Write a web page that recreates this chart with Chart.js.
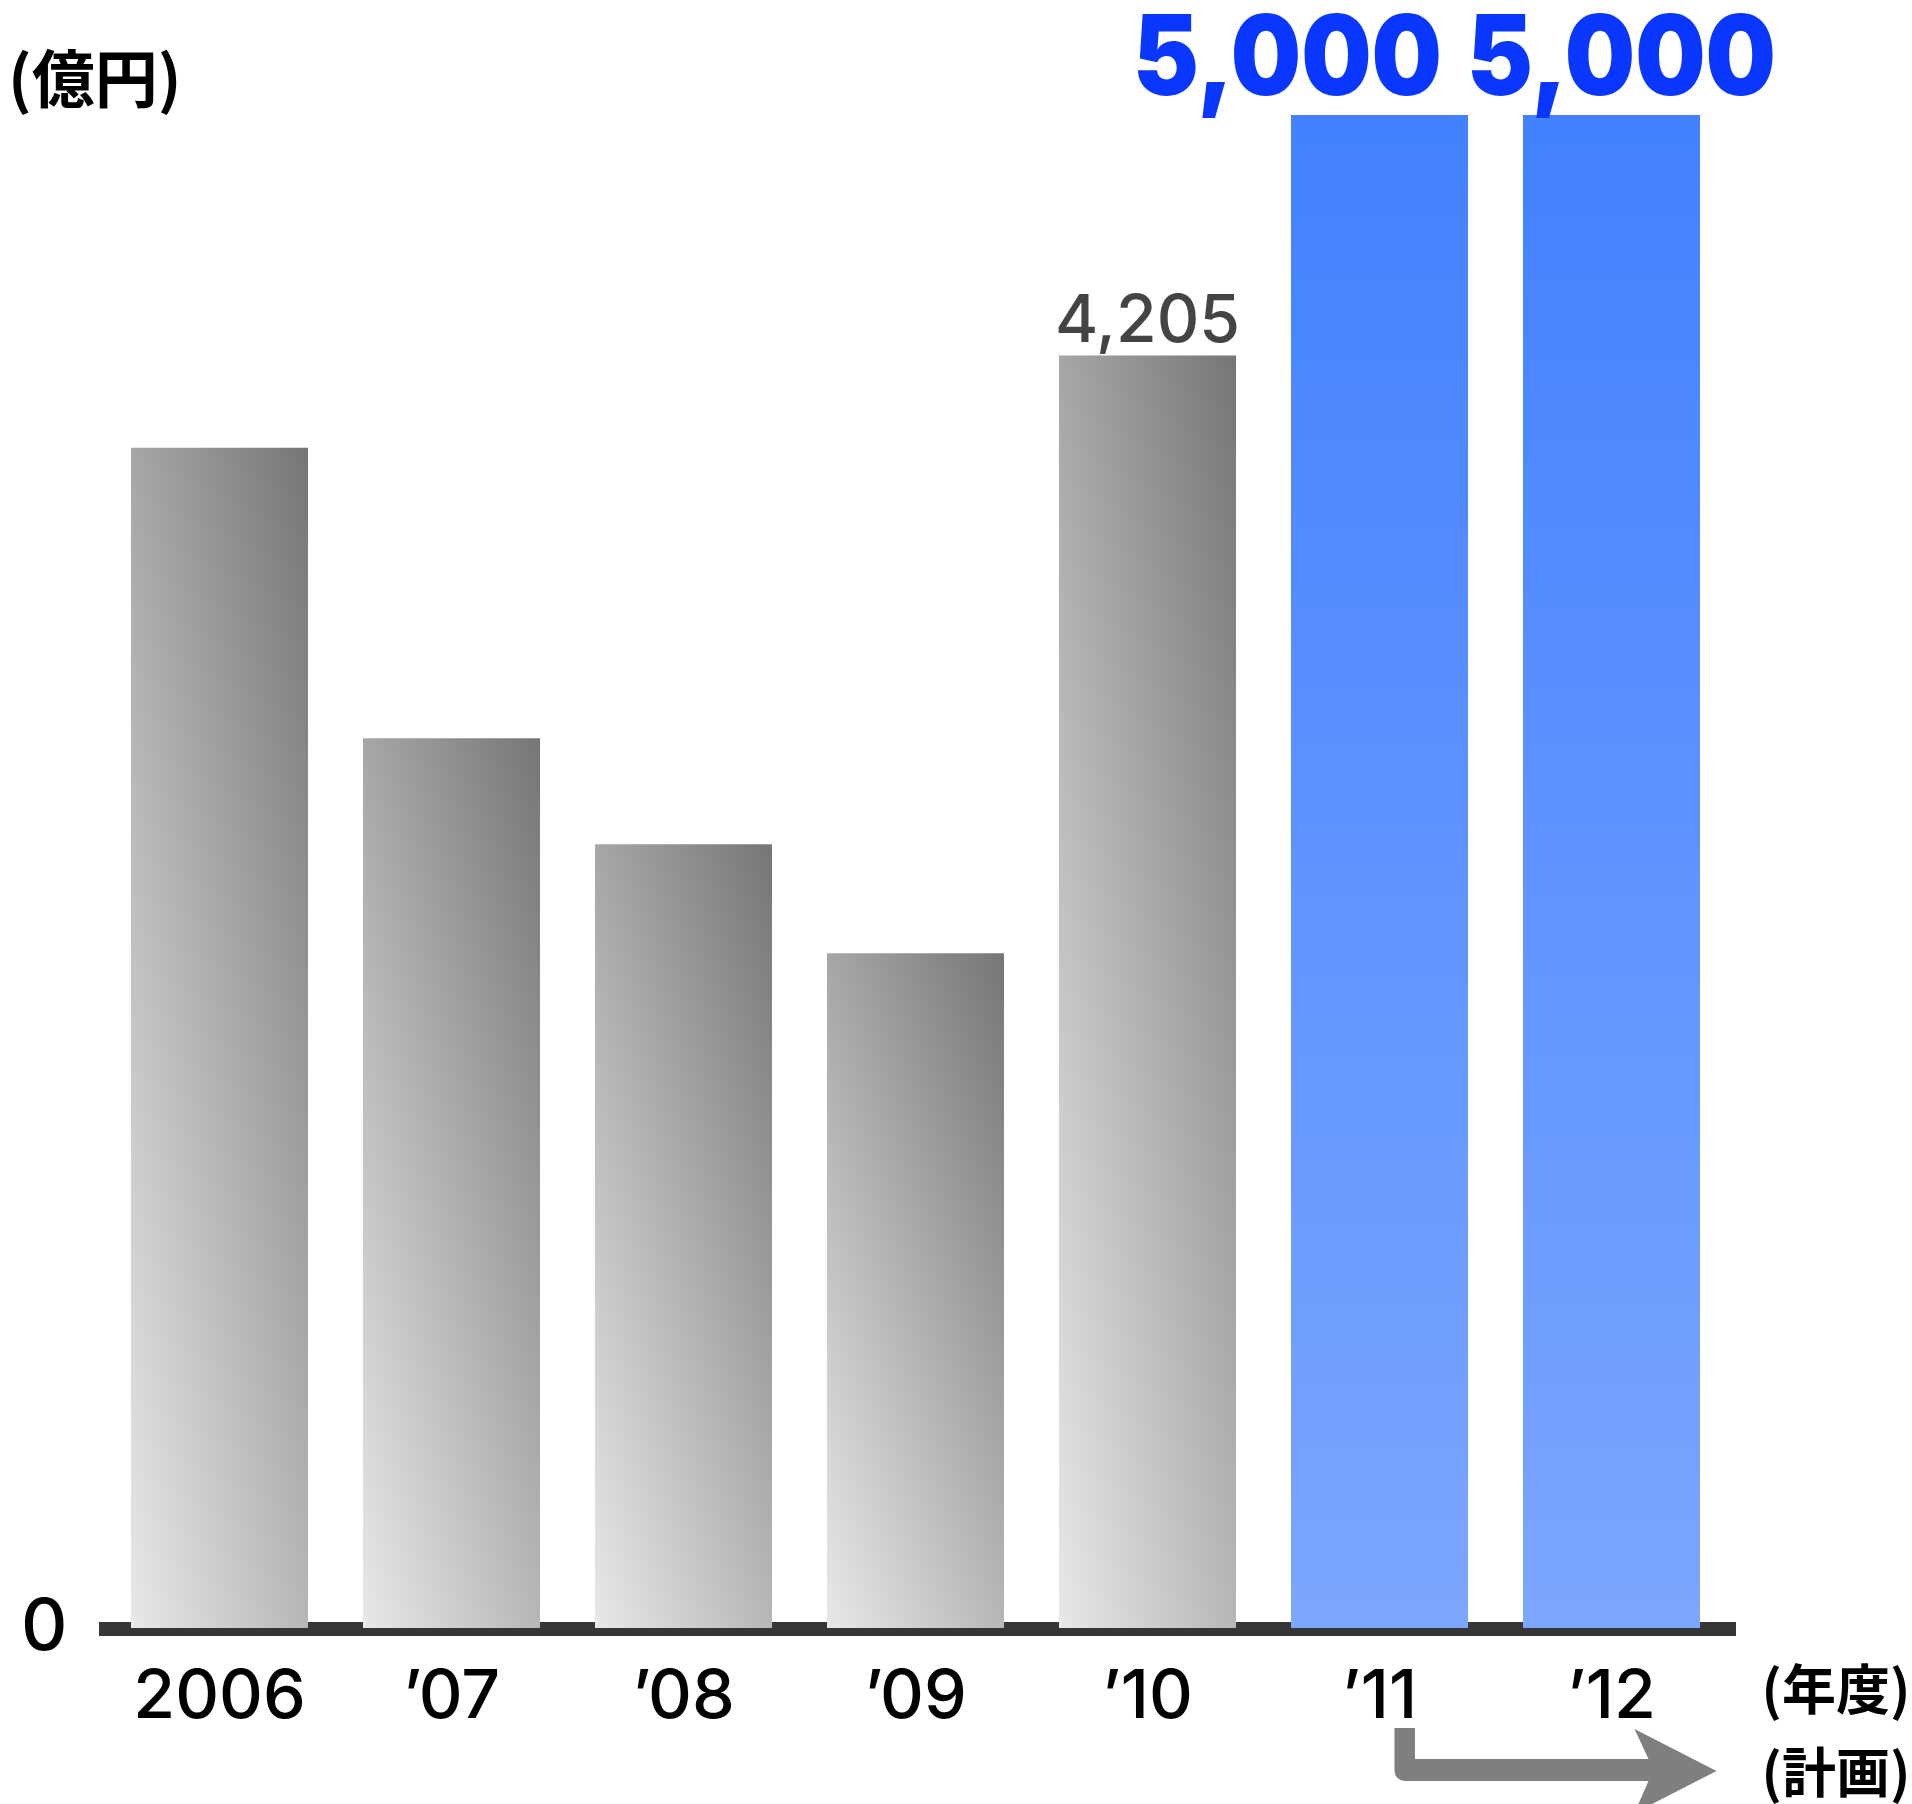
<!DOCTYPE html>
<html lang="ja">
<head>
<meta charset="utf-8">
<title>投資額の推移</title>
<script src="https://cdn.jsdelivr.net/npm/chart.js@4/dist/chart.umd.min.js"></script>
<style>
    html, body { margin: 0; padding: 0; background: #fff; }
    canvas { display: block; }
</style>
</head>
<body>
<canvas id="chart" width="1912" height="1804"></canvas>
<script>
// Data
const years = ['2006', '\u201907', '\u201908', '\u201909', '\u201910', '\u201911', '\u201912'];
const amounts = [3900, 2940, 2590, 2230, 4205, 5000, 5000];
const isPlan = [false, false, false, false, false, true, true];
const showValue = [false, false, false, false, true, true, true];

// Style
const BAR_PCT = 0.763;
const LABEL_NUDGE = { 5: -92, 6: 10 };
const PLAN_LABEL_WIDTH = 309;
const NUM_FONT = 'Inter, "Liberation Sans", Arial, sans-serif';
const JP_FONT = '"Noto Sans CJK JP", sans-serif';

// Gray bars: light bottom-left to dark top-right, blue bars: vertical fade
function barFill(context) {
    const chart = context.chart;
    const { chartArea, scales } = chart;
    if (!chartArea) return null;
    const i = context.dataIndex;
    const c = chart.ctx;
    const x = scales.x.getPixelForValue(i);
    const half = scales.x.width / years.length * BAR_PCT / 2;
    const top = scales.y.getPixelForValue(amounts[i]);
    const base = scales.y.getPixelForValue(0);

    if (isPlan[i]) {
        const g = c.createLinearGradient(0, top, 0, base);
        g.addColorStop(0, '#4281ff');
        g.addColorStop(1, '#7ca6ff');
        return g;
    }
    const w = half * 2, h = base - top;
    const a = 0.43 / w, b = 0.57 / h;
    const k = a * a + b * b;
    const g = c.createLinearGradient(x - half, base, x - half + a / k, base - b / k);
    g.addColorStop(0, '#e8e8e8');
    g.addColorStop(1, '#767676');
    return g;
}

// Thick dark baseline, drawn under the bars
const baselinePlugin = {
    id: 'baseline',
    beforeDatasetsDraw(chart) {
        const { ctx, chartArea } = chart;
        ctx.save();
        ctx.fillStyle = '#363636';
        ctx.fillRect(chartArea.left - 4.5, chartArea.bottom - 6, chartArea.width + 13, 14);
        ctx.restore();
    }
};

// Value labels above selected bars
const valueLabelPlugin = {
    id: 'valueLabels',
    afterDatasetsDraw(chart) {
        const { ctx, scales } = chart;
        ctx.save();
        ctx.textAlign = 'center';
        ctx.textBaseline = 'alphabetic';
        amounts.forEach((v, i) => {
            if (!showValue[i]) return;
            const x = scales.x.getPixelForValue(i) + (LABEL_NUDGE[i] || 0);
            const y = scales.y.getPixelForValue(v);
            const text = v.toLocaleString('en-US');
            if (isPlan[i]) {
                ctx.fillStyle = '#0a37ff';
                ctx.font = '900 111px ' + NUM_FONT;
                // heavy face is a little wide, squeeze it to the original width
                const sx = Math.min(1, PLAN_LABEL_WIDTH / ctx.measureText(text).width);
                ctx.save();
                ctx.translate(x, y - 20);
                ctx.scale(sx, 1);
                ctx.fillText(text, 0, 0);
                ctx.restore();
            } else {
                ctx.fillStyle = '#444444';
                ctx.font = '500 66px ' + NUM_FONT;
                ctx.fillText(text, x, y - 14);
            }
        });
        ctx.restore();
    }
};

// Unit captions and the plan arrow
const annotationPlugin = {
    id: 'annotations',
    afterDraw(chart) {
        const { ctx, chartArea, scales } = chart;
        const bottom = chartArea.bottom;
        ctx.save();
        ctx.fillStyle = '#000';
        ctx.textBaseline = 'middle';
        ctx.textAlign = 'left';
        ctx.font = 'bold 63px ' + JP_FONT;
        ctx.fillText('(億円)', 8, 78);
        ctx.font = 'bold 54px ' + JP_FONT;
        ctx.fillText('(年度)', chartArea.right + 34, bottom + 61);
        ctx.fillText('(計画)', chartArea.right + 34, bottom + 144);

        const x11 = scales.x.getPixelForValue(5);
        const x12 = scales.x.getPixelForValue(6);
        const xa = x11 + 15, xb = x11 + 35.5;
        const yTop = bottom + 100;
        const hy1 = bottom + 131, hy2 = bottom + 153;
        const neck = x12 + 37, tip = x12 + 105, barb = x12 + 23;
        const tipY = bottom + 143, barbDy = 42, r = 10;
        ctx.fillStyle = '#7f7f7f';
        ctx.beginPath();
        ctx.moveTo(xa, yTop);
        ctx.lineTo(xb, yTop);
        ctx.lineTo(xb, hy1);
        ctx.lineTo(neck, hy1);
        ctx.lineTo(barb, tipY - barbDy);
        ctx.lineTo(tip, tipY);
        ctx.lineTo(barb, tipY + barbDy);
        ctx.lineTo(neck, hy2);
        ctx.lineTo(xa + r, hy2);
        ctx.arcTo(xa, hy2, xa, hy2 - r, r);
        ctx.closePath();
        ctx.fill();
        ctx.restore();
    }
};

function init() {
    const ctx = document.getElementById('chart').getContext('2d');
    new Chart(ctx, {
        type: 'bar',
        data: {
            labels: years,
            datasets: [{
                data: amounts,
                backgroundColor: barFill,
                borderWidth: 0,
                categoryPercentage: 1,
                barPercentage: BAR_PCT
            }]
        },
        options: {
            responsive: false,
            animation: false,
            devicePixelRatio: 1,
            layout: { padding: { top: 115, right: 184.5, bottom: 0, left: 0 } },
            plugins: {
                legend: { display: false },
                tooltip: { enabled: false }
            },
            scales: {
                x: {
                    grid: { display: false },
                    border: { display: false },
                    afterFit: s => { s.height = 176; },
                    ticks: {
                        padding: 21,
                        color: '#000',
                        maxRotation: 0,
                        autoSkip: false,
                        font: { family: NUM_FONT, size: 68, weight: 500 }
                    }
                },
                y: {
                    min: 0,
                    max: 5000,
                    grid: { display: false, drawTicks: false },
                    border: { display: false },
                    afterBuildTicks: s => { s.ticks = [{ value: 0 }]; },
                    afterFit: s => { s.width = 103.5; },
                    ticks: {
                        padding: 36,
                        color: '#000',
                        font: { family: NUM_FONT, size: 72, weight: 500 }
                    }
                }
            }
        },
        plugins: [baselinePlugin, valueLabelPlugin, annotationPlugin]
    });
}

document.addEventListener('DOMContentLoaded', init);
</script>
</body>
</html>
